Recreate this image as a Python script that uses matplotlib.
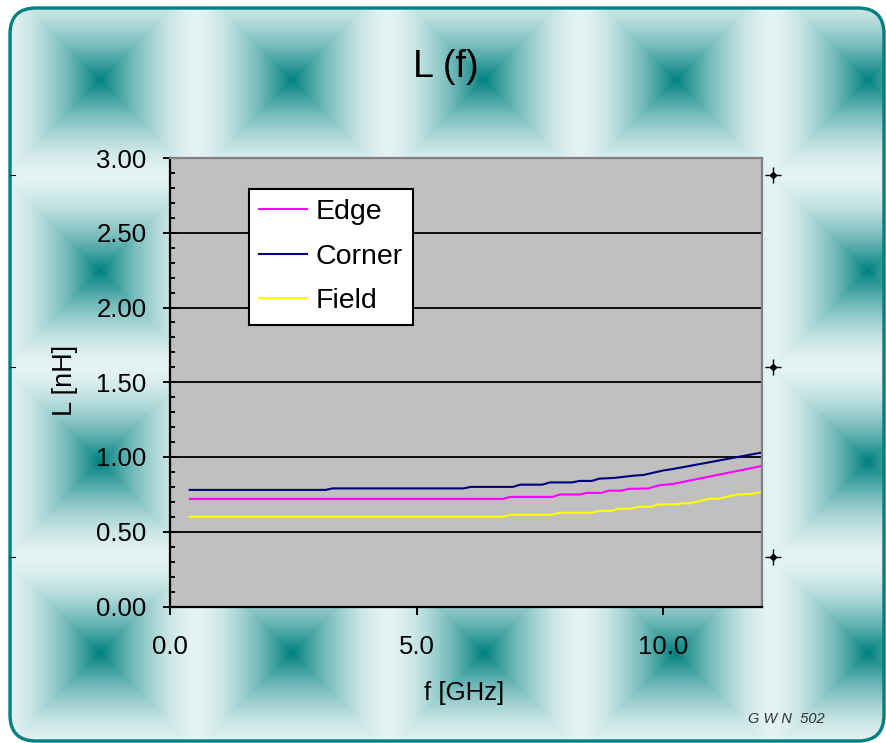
import numpy as np
import matplotlib
matplotlib.use("Agg")
import matplotlib.pyplot as plt
from matplotlib.patches import FancyBboxPatch

plt.rcParams['font.family'] = ['Liberation Sans', 'DejaVu Sans']

# frequency [GHz] / inductance [nH]
edge_f = [0.4, 6.75, 6.9, 7.75, 7.9, 8.3, 8.45, 8.75, 8.9, 9.15, 9.3, 9.7, 9.9, 10.2, 12.0]
edge_L = [0.72, 0.72, 0.733, 0.733, 0.749, 0.749, 0.76, 0.76, 0.775, 0.775, 0.787, 0.79, 0.81, 0.82, 0.94]

corner_f = [0.4, 3.15, 3.3, 5.95, 6.1, 6.95, 7.1, 7.55, 7.7, 8.15, 8.3, 8.55, 8.7, 9.0, 9.4, 9.6, 10.0, 10.2, 12.0]
corner_L = [0.78, 0.78, 0.79, 0.79, 0.80, 0.80, 0.815, 0.815, 0.83, 0.83, 0.84, 0.84, 0.855, 0.86, 0.875, 0.88, 0.91, 0.92, 1.03]

field_f = [0.4, 6.75, 6.9, 7.75, 7.9, 8.55, 8.7, 8.95, 9.1, 9.35, 9.5, 9.75, 9.9, 10.25, 10.4, 10.55, 10.9, 11.1, 11.5, 11.8, 12.0]
field_L = [0.60, 0.60, 0.614, 0.614, 0.627, 0.627, 0.64, 0.64, 0.654, 0.654, 0.667, 0.667, 0.683, 0.683, 0.69, 0.69, 0.72, 0.72, 0.749, 0.753, 0.766]

x_ticks = [0.0, 5.0, 10.0]
y_ticks = [0.0, 0.5, 1.0, 1.5, 2.0, 2.5, 3.0]

W, H = 886, 743
fig = plt.figure(figsize=(W / 100, H / 100), dpi=100)

# tiled teal background inside a rounded frame
bg = fig.add_axes([0, 0, 1, 1])
bg.set_xlim(0, W)
bg.set_ylim(H, 0)
bg.axis('off')

yy, xx = np.mgrid[0:H, 0:W] + 0.5
dx = np.abs(xx - (100 + 192 * np.round((xx - 100) / 192)))
dy = np.abs(yy - (80 + 191 * np.round((yy - 80) / 191)))
r = np.clip(np.maximum(dx, dy) / 94.0, 0, 1)
t = (1 - (1 - r) ** 1.6)[..., None]
c_mid = np.array([0, 128, 128]) / 255.0
c_out = np.array([228, 243, 243]) / 255.0
img = c_mid * (1 - t) + c_out * t

frame = FancyBboxPatch((10, 8), 874, 733, boxstyle="round,pad=0,rounding_size=26",
                       facecolor='none', edgecolor='#008080', linewidth=2.4, zorder=3)
bg.add_patch(frame)
im = bg.imshow(img, extent=[0, W, H, 0], interpolation='bilinear', zorder=1)
im.set_clip_path(frame)

for yv in [175, 367, 557]:
    bg.plot([10, 15], [yv, yv], color='black', linewidth=0.8, zorder=4)
    bg.plot([773], [yv], marker='+', markersize=11, markeredgewidth=1.0, color='black', zorder=4)
    bg.plot([773], [yv], marker='D', markersize=3.2, color='black', zorder=4)

fig.text(825 / W, 1 - 719 / H, 'G W N  502', ha='right', va='center',
         fontsize=10.5, style='italic', color='#333333')

fig.text(445.5 / W, 1 - 77 / H, 'L (f)', ha='center', va='baseline', fontsize=27)

# plot area
ax = fig.add_axes([170 / W, 1 - 606.5 / H, 592 / W, 448.5 / H])
ax.set_facecolor('#C0C0C0')
ax.plot(edge_f, edge_L, color='#FF00FF', linewidth=1.5, label='Edge')
ax.plot(corner_f, corner_L, color='#000080', linewidth=1.5, label='Corner')
ax.plot(field_f, field_L, color='#FFFF00', linewidth=1.5, label='Field')

ax.set_xlim(0, 12)
ax.set_ylim(0, 3)
ax.set_xticks(x_ticks)
ax.set_xticklabels([f'{v:.1f}' for v in x_ticks])
ax.set_yticks(y_ticks)
ax.set_yticklabels([f'{v:.2f}' for v in y_ticks])
ax.set_yticks(np.arange(0, 3.01, 0.1), minor=True)
ax.grid(True, axis='y', which='major', color='black', linewidth=1.3)
ax.tick_params(axis='y', which='major', direction='inout', length=9.5, width=1.4,
               labelsize=18.5, pad=12)
ax.tick_params(axis='y', which='minor', direction='in', length=3.5, width=1.4)
ax.tick_params(axis='x', which='major', direction='out', length=6, width=1.4,
               labelsize=18.5, pad=14.5)
for side in ['left', 'bottom']:
    ax.spines[side].set_color('black')
    ax.spines[side].set_linewidth(1.6)
for side in ['top', 'right']:
    ax.spines[side].set_color('#808080')
    ax.spines[side].set_linewidth(1.6)

ax.set_xlabel('f [GHz]', fontsize=18.5)
ax.xaxis.set_label_coords((464 - 170) / 592, -0.165)
ax.set_ylabel('L [nH]', fontsize=19.5)
ax.yaxis.set_label_coords(-0.155, 0.503)

leg = ax.legend(loc='upper left', bbox_to_anchor=(248.5 / W, 1 - 189 / H),
                bbox_transform=fig.transFigure, borderaxespad=0, fancybox=False,
                framealpha=1, edgecolor='black', fontsize=20.5, handlelength=1.7,
                handletextpad=0.3, labelspacing=0.65, borderpad=0.36)
leg.get_frame().set_linewidth(1.5)

fig.savefig('out.png', dpi=100)
